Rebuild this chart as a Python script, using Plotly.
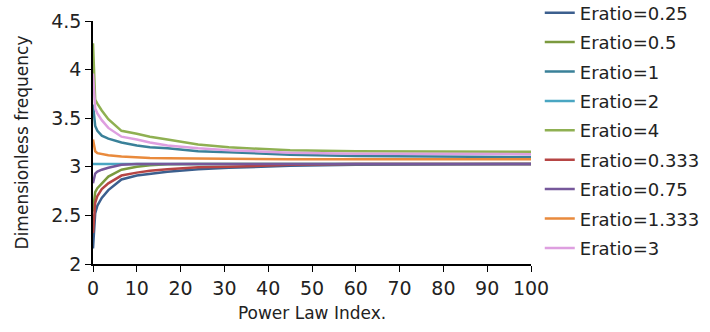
import plotly.graph_objects as go

x_index = [0, 0.5, 1, 2, 3.5, 6.5, 10, 13, 17, 24, 31, 45, 60, 100]

names = ["Eratio=0.25", "Eratio=0.5", "Eratio=1", "Eratio=2", "Eratio=4",
         "Eratio=0.333", "Eratio=0.75", "Eratio=1.333", "Eratio=3"]

eratio_025 = [2.16, 2.52, 2.60, 2.68, 2.76, 2.87, 2.91, 2.93, 2.95, 2.975, 2.99, 3.01, 3.02, 3.03]
eratio_05 = [2.54, 2.74, 2.78, 2.83, 2.90, 2.97, 3.00, 3.015, 3.025, 3.03, 3.03, 3.03, 3.03, 3.03]
eratio_1 = [3.64, 3.42, 3.37, 3.32, 3.29, 3.25, 3.22, 3.20, 3.19, 3.16, 3.15, 3.125, 3.11, 3.10]
eratio_2 = [3.03, 3.03, 3.03, 3.03, 3.03, 3.03, 3.03, 3.03, 3.03, 3.03, 3.03, 3.03, 3.03, 3.03]
eratio_4 = [4.27, 3.69, 3.65, 3.58, 3.49, 3.37, 3.34, 3.31, 3.28, 3.23, 3.20, 3.17, 3.16, 3.155]
eratio_0333 = [2.32, 2.63, 2.70, 2.77, 2.83, 2.91, 2.94, 2.96, 2.975, 2.995, 3.00, 3.02, 3.03, 3.03]
eratio_075 = [2.83, 2.93, 2.95, 2.97, 2.99, 3.02, 3.03, 3.03, 3.03, 3.03, 3.03, 3.03, 3.03, 3.03]
eratio_1333 = [3.28, 3.16, 3.14, 3.13, 3.12, 3.105, 3.095, 3.09, 3.088, 3.085, 3.08, 3.078, 3.077, 3.077]
eratio_3 = [3.96, 3.60, 3.55, 3.48, 3.40, 3.31, 3.28, 3.25, 3.22, 3.19, 3.17, 3.145, 3.135, 3.13]

series = [eratio_025, eratio_05, eratio_1, eratio_2, eratio_4,
          eratio_0333, eratio_075, eratio_1333, eratio_3]
colors = ["#3c5f8e", "#7b9a3e", "#3a8199", "#4aa6c2", "#8fb052",
          "#b64544", "#76589b", "#e98a3c", "#de9fe0"]

fig = go.Figure()
for i, (n, s, c) in enumerate(zip(names, series, colors)):
    fig.add_trace(go.Scatter(x=x_index, y=s, mode="lines", name=n,
                             legendgroup=n,
                             line=dict(color=c, width=2.5)))

font_family = "DejaVu Sans"
fig.update_layout(
    width=710, height=332,
    margin=dict(l=93, r=179, t=21, b=68, autoexpand=False),
    paper_bgcolor="white", plot_bgcolor="white",
    font=dict(family=font_family, size=18, color="#222"),
    legend=dict(x=1.02, y=1.109, xanchor="left", yanchor="top",
                font=dict(size=18), itemwidth=30, tracegroupgap=3,
                maxheight=1, bgcolor="rgba(0,0,0,0)"),
    xaxis=dict(range=[0, 100], tickvals=list(range(0, 101, 10)),
               showgrid=False, zeroline=False, showline=True,
               linecolor="black", linewidth=1.5, ticks="outside",
               ticklen=6, tickcolor="black", tickfont=dict(size=19),
               title=dict(text="Power Law Index.", font=dict(size=17), standoff=10)),
    yaxis=dict(range=[2, 4.5], tickvals=[2, 2.5, 3, 3.5, 4, 4.5],
               ticktext=["2", "2.5", "3", "3.5", "4", "4.5"],
               showgrid=False, zeroline=False, showline=True,
               linecolor="black", linewidth=1.5, ticks="outside",
               ticklen=6, tickcolor="black", tickfont=dict(size=19),
               title=dict(text="Dimensionless frequency", font=dict(size=17), standoff=18)),
)

fig.write_html("out.html")
